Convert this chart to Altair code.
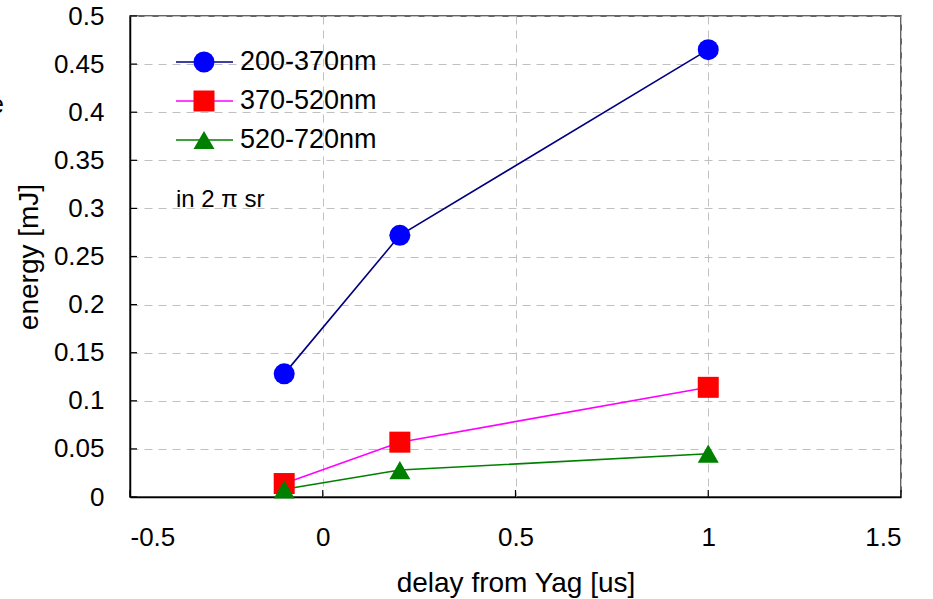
import altair as alt
import pandas as pd

# ---- data ----
delay = [-0.1, 0.2, 1.0]
series_names = ["200-370nm", "370-520nm", "520-720nm"]
e_200_370 = [0.128, 0.272, 0.465]
e_370_520 = [0.014, 0.057, 0.114]
e_520_720 = [0.008, 0.028, 0.045]
line_colors = ["#000080", "#FF00FF", "#008000"]
marker_colors = ["#0000FF", "#FF0000", "#008000"]
marker_shapes = ["circle", "square", "triangle-up"]
x_ticks = [-0.5, 0, 0.5, 1, 1.5]
y_ticks = [0, 0.05, 0.1, 0.15, 0.2, 0.25, 0.3, 0.35, 0.4, 0.45, 0.5]
note_text = ["in 2 \u03c0 sr"]

FONT = "Liberation Sans"

rows = []
for name, vals in zip(series_names, [e_200_370, e_370_520, e_520_720]):
    for d, v in zip(delay, vals):
        rows.append({"delay": d, "energy": v, "series": name})
df = pd.DataFrame(rows)

legend_df = pd.DataFrame({"series": series_names, "row": list(range(len(series_names)))})

xscale = alt.Scale(domain=[-0.5, 1.5], nice=False, zero=False)
yscale = alt.Scale(domain=[0, 0.5], nice=False, zero=True)
stroke_scale = alt.Scale(domain=series_names, range=line_colors)
fill_scale = alt.Scale(domain=series_names, range=marker_colors)
shape_scale = alt.Scale(domain=series_names, range=marker_shapes)

x_axis = alt.Axis(
    values=x_ticks, format="~g", title="delay from Yag [us]", grid=True, gridDash=[8, 6],
    gridColor="#c0c0c0", gridWidth=1, ticks=False, tickSize=0,
    labelExpr="replace(datum.label, '\u2212', '-')",
    labelFontSize=26, labelPadding=27, titleFontSize=28, titleFontWeight="normal",
    titlePadding=19, domainColor="#000000", domainWidth=1.5, labelColor="#000000",
    titleColor="#000000",
)
y_axis = alt.Axis(
    values=y_ticks, format="~g", title="energy [mJ]", grid=True, gridDash=[8, 6],
    gridColor="#c0c0c0", gridWidth=1, ticks=False, tickSize=0,
    labelFontSize=26, labelPadding=26, titleFontSize=28, titleFontWeight="normal",
    titlePadding=10, domainColor="#000000", domainWidth=1.5, labelColor="#000000",
    titleColor="#000000",
)

base = alt.Chart(df)

lines = base.mark_line(strokeWidth=1.6).encode(
    x=alt.X("delay:Q", scale=xscale, axis=x_axis),
    y=alt.Y("energy:Q", scale=yscale, axis=y_axis),
    stroke=alt.Stroke("series:N", scale=stroke_scale, legend=None),
    detail="series:N",
)

points = base.mark_point(filled=True, size=441, opacity=1, strokeWidth=0).encode(
    x=alt.X("delay:Q", scale=xscale),
    y=alt.Y("energy:Q", scale=yscale),
    fill=alt.Fill("series:N", scale=fill_scale, legend=None),
    shape=alt.Shape("series:N", scale=shape_scale, legend=None),
)

# inward tick marks
yticks_df = pd.DataFrame({"v": y_ticks})
xticks_df = pd.DataFrame({"v": x_ticks})
ytick_marks = alt.Chart(yticks_df).mark_rule(color="#000000", strokeWidth=1.2).encode(
    y=alt.Y("v:Q", scale=yscale), x=alt.value(0), x2=alt.value(7)
)
xtick_marks = alt.Chart(xticks_df).mark_rule(color="#000000", strokeWidth=1.2).encode(
    x=alt.X("v:Q", scale=xscale), y=alt.value(481), y2=alt.value(474)
)

# manual legend
leg = alt.Chart(legend_df).transform_calculate(ypx="46 + datum.row * 39")
leg_lines = leg.mark_rule(strokeWidth=1.6).encode(
    y=alt.Y("ypx:Q", scale=None),
    x=alt.value(46), x2=alt.value(103),
    stroke=alt.Stroke("series:N", scale=stroke_scale, legend=None),
)
leg_points = leg.mark_point(filled=True, size=441, opacity=1, strokeWidth=0).encode(
    y=alt.Y("ypx:Q", scale=None),
    x=alt.value(74),
    fill=alt.Fill("series:N", scale=fill_scale, legend=None),
    shape=alt.Shape("series:N", scale=shape_scale, legend=None),
)
leg_text = leg.mark_text(align="left", baseline="middle", fontSize=27, font=FONT, color="#000000").encode(
    y=alt.Y("ypx:Q", scale=None),
    x=alt.value(110),
    text="series:N",
)

note = alt.Chart(pd.DataFrame({"t": note_text})).mark_text(
    align="left", baseline="middle", fontSize=24, font=FONT, color="#000000"
).encode(x=alt.value(46), y=alt.value(184), text="t:N")

# clipped fragment at the far left edge of the reference
frag = alt.Chart(pd.DataFrame({"t": ["e"]})).mark_text(
    align="center", baseline="middle", fontSize=25, font=FONT, color="#000000"
).encode(x=alt.value(-133), y=alt.value(89), text="t:N")

chart = alt.layer(
    lines, ytick_marks, xtick_marks, points, leg_lines, leg_points, leg_text, note, frag
).properties(
    width=771, height=481,
    autosize=alt.AutoSizeParams(type="none"),
    padding={"left": 130, "top": 16, "right": 32, "bottom": 102},
).configure(font=FONT).configure_view(
    stroke="#333333", strokeWidth=1.5
).configure_axis(labelFont=FONT, titleFont=FONT)

chart.save("out.html", embed_options={"renderer": "svg", "actions": False})
